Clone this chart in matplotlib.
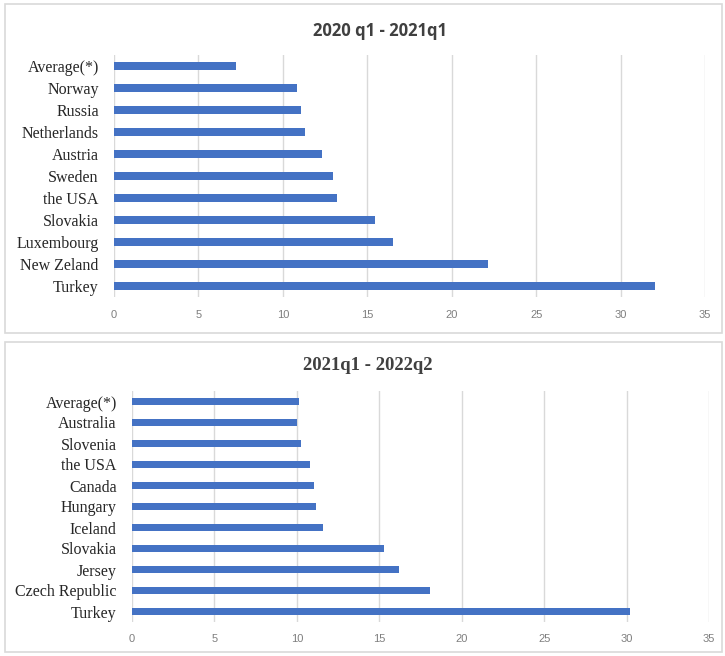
import matplotlib.pyplot as plt
from matplotlib.patches import Rectangle

# Period 1: 2020 q1 - 2021q1 (top to bottom as shown)
countries_1 = ['Average(*)', 'Norway', 'Russia', 'Netherlands', 'Austria', 'Sweden',
               'the USA', 'Slovakia', 'Luxembourg', 'New Zeland', 'Turkey']
values_1 = [7.25, 10.85, 11.1, 11.3, 12.3, 12.95, 13.2, 15.45, 16.55, 22.15, 32.05]

# Period 2: 2021q1 - 2022q2
countries_2 = ['Average(*)', 'Australia', 'Slovenia', 'the USA', 'Canada', 'Hungary',
               'Iceland', 'Slovakia', 'Jersey', 'Czech Republic', 'Turkey']
values_2 = [10.15, 10.0, 10.25, 10.8, 11.05, 11.15, 11.6, 15.3, 16.2, 18.1, 30.2]

x_ticks = [0, 5, 10, 15, 20, 25, 30, 35]

W, H = 725, 656
BAR_COLOR = '#4472C4'
GRID_COLOR = '#d9d9d9'

fig = plt.figure(figsize=(W / 100, H / 100), dpi=100)


def px_rect(x0, y0, x1, y1):
    # pixel box (top-left origin) -> figure fraction [left, bottom, width, height]
    return [x0 / W, 1 - y1 / H, (x1 - x0) / W, (y1 - y0) / H]


def draw_panel(countries, values, ax_box, panel_box, title, title_xy, title_font, title_size):
    # chart border
    l, b, w, h = px_rect(*panel_box)
    fig.patches.append(Rectangle((l, b), w, h, transform=fig.transFigure,
                                 fill=False, edgecolor=GRID_COLOR, linewidth=1.2))
    ax = fig.add_axes(px_rect(*ax_box))
    y = list(range(len(countries)))
    ax.barh(y, values, height=0.37, color=BAR_COLOR, zorder=3)
    ax.set_xlim(0, 35)
    ax.set_ylim(len(countries) - 0.5, -0.5)
    ax.set_yticks(y)
    ax.set_yticklabels(countries, family='Liberation Serif', fontsize=11.5, color='#262626')
    ax.set_xticks(x_ticks)
    ax.set_xticklabels([str(t) for t in x_ticks], family='Liberation Sans',
                       fontsize=8, color='#7f7f7f')
    ax.tick_params(length=0, axis='y', pad=11)
    ax.tick_params(length=0, axis='x', pad=9)
    ax.grid(axis='x', color=GRID_COLOR, linewidth=1, zorder=0)
    for s in ax.spines.values():
        s.set_visible(False)
    fig.text(title_xy[0] / W, 1 - title_xy[1] / H, title, ha='center', va='center',
             fontsize=title_size, fontweight='bold', color='#404040', family=title_font)
    return ax


draw_panel(countries_1, values_1, (114, 55, 705, 297), (5, 4, 722, 333),
           '2020 q1 - 2021q1', (380, 31), 'Open Sans', 12)
draw_panel(countries_2, values_2, (132, 391, 709, 622), (5, 342, 722, 652),
           '2021q1 - 2022q2', (368, 365), 'Liberation Serif', 13.5)

plt.savefig('out.png', dpi=100)
